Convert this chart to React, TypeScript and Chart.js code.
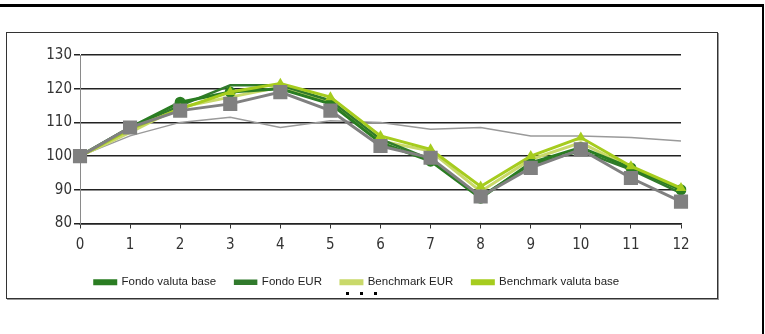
import React, { useEffect, useRef } from "react";
import { Chart, registerables } from "chart.js";

Chart.register(...registerables);

const categories = ["0", "1", "2", "3", "4", "5", "6", "7", "8", "9", "10", "11", "12"];
const fondoValutaBase = [100, 108.5, 116, 119, 120, 115.5, 104, 98.5, 87.5, 98, 102.5, 96.5, 90];
const fondoEUR = [100, 108.5, 115, 121, 121, 116.5, 105, 99, 88, 97.5, 101.5, 96, 89];
const benchmarkEUR = [100, 107, 114.5, 117.5, 120.5, 116, 104.5, 101.5, 89.5, 99, 104, 96.5, 90];
const benchmarkValutaBase = [100, 108, 114, 119, 121.5, 117.5, 106, 102, 91, 100, 105.5, 97, 90.5];
const greySquares = [100, 108.5, 113.5, 115.5, 119, 113.5, 103, 99.5, 88, 96.5, 102, 93.5, 86.5];
const thinGrey = [100, 106, 110, 111.5, 108.5, 110.5, 110, 108, 108.5, 106, 106, 105.5, 104.5];
const yTicks = [80, 90, 100, 110, 120, 130];

const FONT = '"Liberation Sans Narrow", "DejaVu Sans Condensed", "Arial Narrow", sans-serif';
const LEGEND_FONT = '"Liberation Sans", Arial, sans-serif';

export default function App() {
  const ref = useRef<HTMLCanvasElement | null>(null);

  useEffect(() => {
    if (!ref.current) return;
    const chart = new Chart(ref.current, {
      type: "line",
      data: {
        labels: categories,
        datasets: [
          {
            label: "",
            data: greySquares,
            borderColor: "#808080",
            backgroundColor: "#808080",
            borderWidth: 3,
            pointStyle: "rect",
            pointRadius: 10,
            pointBorderWidth: 0,
            order: 0,
          },
          {
            label: "",
            data: thinGrey,
            borderColor: "#9a9a9a",
            backgroundColor: "#9a9a9a",
            borderWidth: 1.5,
            pointRadius: 0,
            order: 6,
          },
          {
            label: "Fondo valuta base",
            data: fondoValutaBase,
            borderColor: "#2a7d22",
            backgroundColor: "#2a7d22",
            borderWidth: 3,
            pointStyle: "circle",
            pointRadius: 5.5,
            pointBorderWidth: 0,
            order: 2,
          },
          {
            label: "Fondo EUR",
            data: fondoEUR,
            borderColor: "#317a2c",
            backgroundColor: "#317a2c",
            borderWidth: 2.5,
            pointRadius: 0,
            order: 3,
          },
          {
            label: "Benchmark EUR",
            data: benchmarkEUR,
            borderColor: "#c9d96a",
            backgroundColor: "#c9d96a",
            borderWidth: 3,
            pointRadius: 0,
            order: 4,
          },
          {
            label: "Benchmark valuta base",
            data: benchmarkValutaBase,
            borderColor: "#a6cc1e",
            backgroundColor: "#a6cc1e",
            borderWidth: 3,
            pointStyle: "triangle",
            pointRadius: 6,
            pointBorderWidth: 0,
            order: 1,
          },
        ],
      },
      options: {
        responsive: false,
        animation: false,
        devicePixelRatio: 1,
        layout: { padding: { top: 21, left: 25, right: 36, bottom: 0 } },
        plugins: {
          tooltip: { enabled: false },
          title: { display: false },
          legend: {
            display: true,
            position: "bottom",
            labels: {
              filter: (item: any) => item.text !== "",
              sort: (a: any, b: any) => a.datasetIndex - b.datasetIndex,
              boxWidth: 21,
              boxHeight: 3,
              padding: 19,
              color: "#222",
              font: { family: LEGEND_FONT, size: 11.5 },
            },
          },
        },
        scales: {
          x: {
            type: "category",
            offset: false,
            grid: {
              display: true,
              drawOnChartArea: false,
              drawTicks: true,
              tickLength: 5,
              color: "#333",
              lineWidth: 1,
            },
            border: { display: true, color: "#222", width: 1.5 },
            ticks: {
              color: "#333",
              padding: 8,
              maxRotation: 0,
              font: { family: FONT, size: 15 },
            },
            afterFit: (s: any) => {
              s.height = 34;
            },
          },
          y: {
            type: "linear",
            min: 80,
            max: 130,
            afterBuildTicks: (s: any) => {
              s.ticks = yTicks.map((v) => ({ value: v }));
            },
            grid: {
              display: true,
              drawOnChartArea: true,
              drawTicks: true,
              tickLength: 6,
              color: "#222",
              lineWidth: 1.5,
            },
            border: { display: true, color: "#8a8a8a", width: 1 },
            ticks: {
              color: "#333",
              padding: 2,
              font: { family: FONT, size: 15 },
            },
            afterFit: (s: any) => {
              s.width = 47;
            },
          },
        },
      },
    });
    return () => chart.destroy();
  }, []);

  return (
    <div style={{ position: "fixed", left: 0, top: 0, width: 765, height: 334, background: "#fff", overflow: "hidden" }}>
      <div style={{ position: "absolute", left: 0, top: 4, width: 764, height: 3, background: "#000" }} />
      <div style={{ position: "absolute", left: 762, top: 4, width: 2, height: 330, background: "#000" }} />
      <canvas
        ref={ref}
        width={709}
        height={264}
        style={{ position: "absolute", left: 8, top: 34, width: 709, height: 264 }}
      />
      <div
        style={{
          position: "absolute",
          left: 6,
          top: 32,
          width: 710,
          height: 265,
          border: "1px solid #333",
          boxShadow: "1px 1px 0 #999",
          pointerEvents: "none",
        }}
      />
      <div style={{ position: "absolute", left: 346, top: 292, width: 3, height: 3, background: "#000" }} />
      <div style={{ position: "absolute", left: 360, top: 292, width: 3, height: 3, background: "#000" }} />
      <div style={{ position: "absolute", left: 374, top: 292, width: 3, height: 3, background: "#000" }} />
    </div>
  );
}
